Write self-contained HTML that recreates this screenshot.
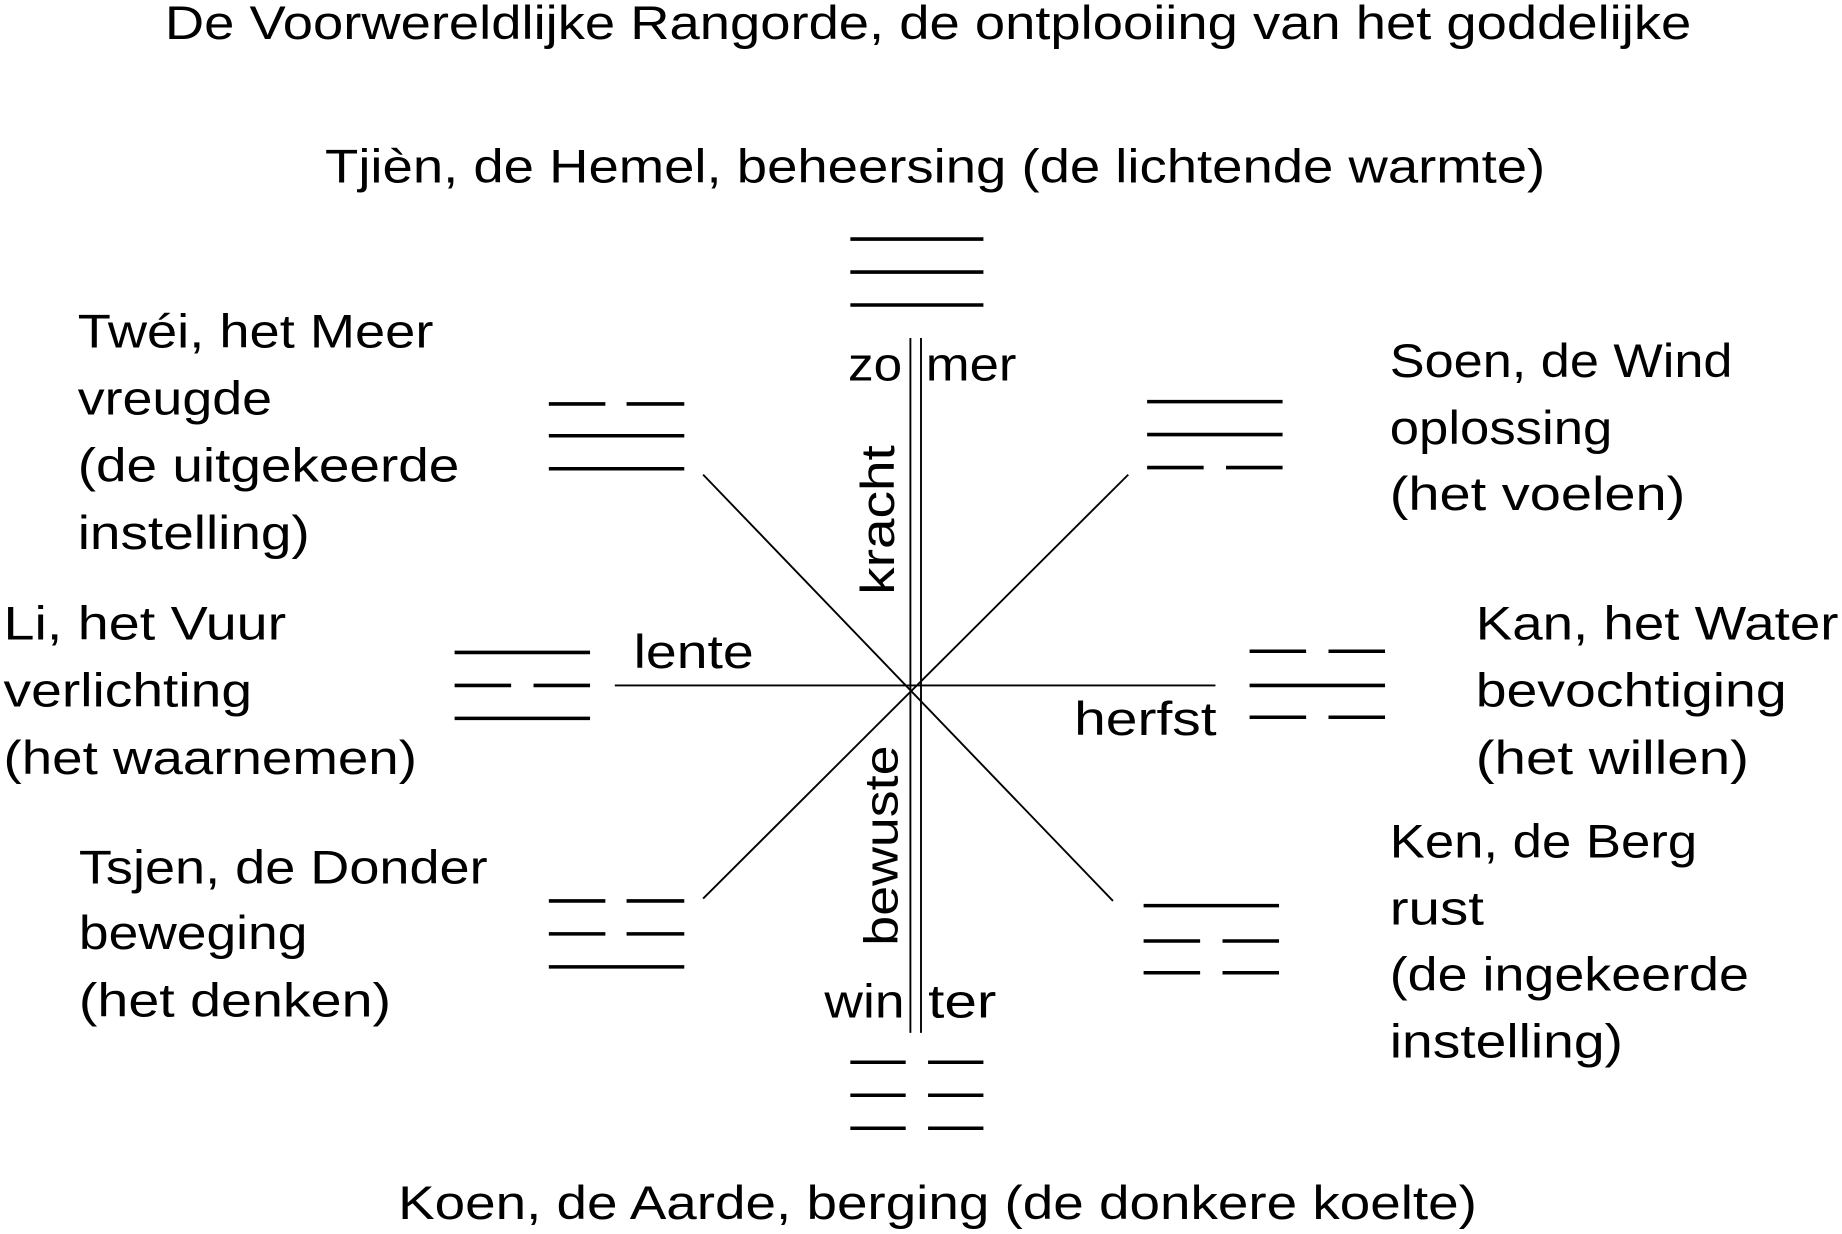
<!DOCTYPE html>
<html><head><meta charset="utf-8"><style>html,body{margin:0;padding:0;background:#fff}svg{display:block}</style></head>
<body>
<svg width="1842" height="1234" viewBox="0 0 1564 1047.8" preserveAspectRatio="none" xmlns="http://www.w3.org/2000/svg" font-family="Liberation Sans, sans-serif" font-size="40" fill="#000">
<g stroke="#000" stroke-width="1.6">
<line x1="773" y1="287" x2="773" y2="877"/>
<line x1="782" y1="287" x2="782" y2="877"/>
<line x1="522" y1="582" x2="1032" y2="582"/>
<line x1="597" y1="403" x2="945" y2="765"/>
<line x1="958" y1="403" x2="597" y2="763"/>
</g>
<g stroke="#000" stroke-width="3">
<line x1="722" y1="203" x2="835" y2="203"/><line x1="722" y1="231" x2="835" y2="231"/><line x1="722" y1="259" x2="835" y2="259"/>
<line x1="466" y1="343" x2="514" y2="343"/><line x1="532" y1="343" x2="581" y2="343"/>
<line x1="466" y1="370" x2="581" y2="370"/><line x1="466" y1="398" x2="581" y2="398"/>
<line x1="974" y1="341" x2="1089" y2="341"/><line x1="974" y1="369" x2="1089" y2="369"/>
<line x1="974" y1="397" x2="1022" y2="397"/><line x1="1041" y1="397" x2="1089" y2="397"/>
<line x1="386" y1="554" x2="501" y2="554"/>
<line x1="386" y1="582" x2="434" y2="582"/><line x1="453" y1="582" x2="501" y2="582"/>
<line x1="386" y1="610" x2="501" y2="610"/>
<line x1="1061" y1="553" x2="1109" y2="553"/><line x1="1128" y1="553" x2="1176" y2="553"/>
<line x1="1061" y1="582" x2="1176" y2="582"/>
<line x1="1061" y1="609" x2="1109" y2="609"/><line x1="1128" y1="609" x2="1176" y2="609"/>
<line x1="466" y1="765" x2="514" y2="765"/><line x1="532" y1="765" x2="581" y2="765"/>
<line x1="466" y1="793" x2="514" y2="793"/><line x1="532" y1="793" x2="581" y2="793"/>
<line x1="466" y1="821" x2="581" y2="821"/>
<line x1="971" y1="769" x2="1086" y2="769"/>
<line x1="971" y1="799" x2="1019" y2="799"/><line x1="1038" y1="799" x2="1086" y2="799"/>
<line x1="971" y1="826" x2="1019" y2="826"/><line x1="1038" y1="826" x2="1086" y2="826"/>
<line x1="722" y1="902" x2="769" y2="902"/><line x1="788" y1="902" x2="835" y2="902"/>
<line x1="722" y1="930" x2="769" y2="930"/><line x1="788" y1="930" x2="835" y2="930"/>
<line x1="722" y1="958" x2="769" y2="958"/><line x1="788" y1="958" x2="835" y2="958"/>
</g>
<g lengthAdjust="spacingAndGlyphs">
<text x="140" y="33" textLength="1296" lengthAdjust="spacingAndGlyphs">De Voorwereldlijke Rangorde, de ontplooiing van het goddelijke</text>
<text x="276" y="155" textLength="1036" lengthAdjust="spacingAndGlyphs">Tjièn, de Hemel, beheersing (de lichtende warmte)</text>
<text x="338" y="1035" textLength="916" lengthAdjust="spacingAndGlyphs">Koen, de Aarde, berging (de donkere koelte)</text>
<text x="720" y="323" textLength="46" lengthAdjust="spacingAndGlyphs">zo</text><text x="786" y="323" textLength="77" lengthAdjust="spacingAndGlyphs">mer</text>
<text x="700" y="864" textLength="68" lengthAdjust="spacingAndGlyphs">win</text><text x="788" y="864" textLength="58" lengthAdjust="spacingAndGlyphs">ter</text>
<text x="538" y="567" textLength="102" lengthAdjust="spacingAndGlyphs">lente</text>
<text x="912" y="624" textLength="121" lengthAdjust="spacingAndGlyphs">herfst</text>
<text transform="translate(759,505) rotate(-90)" textLength="127" lengthAdjust="spacingAndGlyphs">kracht</text>
<text transform="translate(762,803) rotate(-90)" textLength="170" lengthAdjust="spacingAndGlyphs">bewuste</text>
<text x="66" y="295" textLength="302" lengthAdjust="spacingAndGlyphs">Twéi, het Meer</text>
<text x="66" y="352" textLength="165" lengthAdjust="spacingAndGlyphs">vreugde</text>
<text x="66" y="409" textLength="324" lengthAdjust="spacingAndGlyphs">(de uitgekeerde</text>
<text x="66" y="466" textLength="197" lengthAdjust="spacingAndGlyphs">instelling)</text>
<text x="1180" y="320" textLength="291" lengthAdjust="spacingAndGlyphs">Soen, de Wind</text>
<text x="1180" y="377" textLength="189" lengthAdjust="spacingAndGlyphs">oplossing</text>
<text x="1180" y="433" textLength="251" lengthAdjust="spacingAndGlyphs">(het voelen)</text>
<text x="3" y="543" textLength="240" lengthAdjust="spacingAndGlyphs">Li, het Vuur</text>
<text x="3" y="600" textLength="211" lengthAdjust="spacingAndGlyphs">verlichting</text>
<text x="3" y="657" textLength="351" lengthAdjust="spacingAndGlyphs">(het waarnemen)</text>
<text x="1253" y="543" textLength="308" lengthAdjust="spacingAndGlyphs">Kan, het Water</text>
<text x="1253" y="600" textLength="264" lengthAdjust="spacingAndGlyphs">bevochtiging</text>
<text x="1253" y="657" textLength="232" lengthAdjust="spacingAndGlyphs">(het willen)</text>
<text x="67" y="750" textLength="347" lengthAdjust="spacingAndGlyphs">Tsjen, de Donder</text>
<text x="67" y="806" textLength="194" lengthAdjust="spacingAndGlyphs">beweging</text>
<text x="67" y="863" textLength="265" lengthAdjust="spacingAndGlyphs">(het denken)</text>
<text x="1180" y="728" textLength="261" lengthAdjust="spacingAndGlyphs">Ken, de Berg</text>
<text x="1180" y="785" textLength="80" lengthAdjust="spacingAndGlyphs">rust</text>
<text x="1180" y="841" textLength="305" lengthAdjust="spacingAndGlyphs">(de ingekeerde</text>
<text x="1180" y="898" textLength="198" lengthAdjust="spacingAndGlyphs">instelling)</text>
</g>
</svg>
</body></html>
